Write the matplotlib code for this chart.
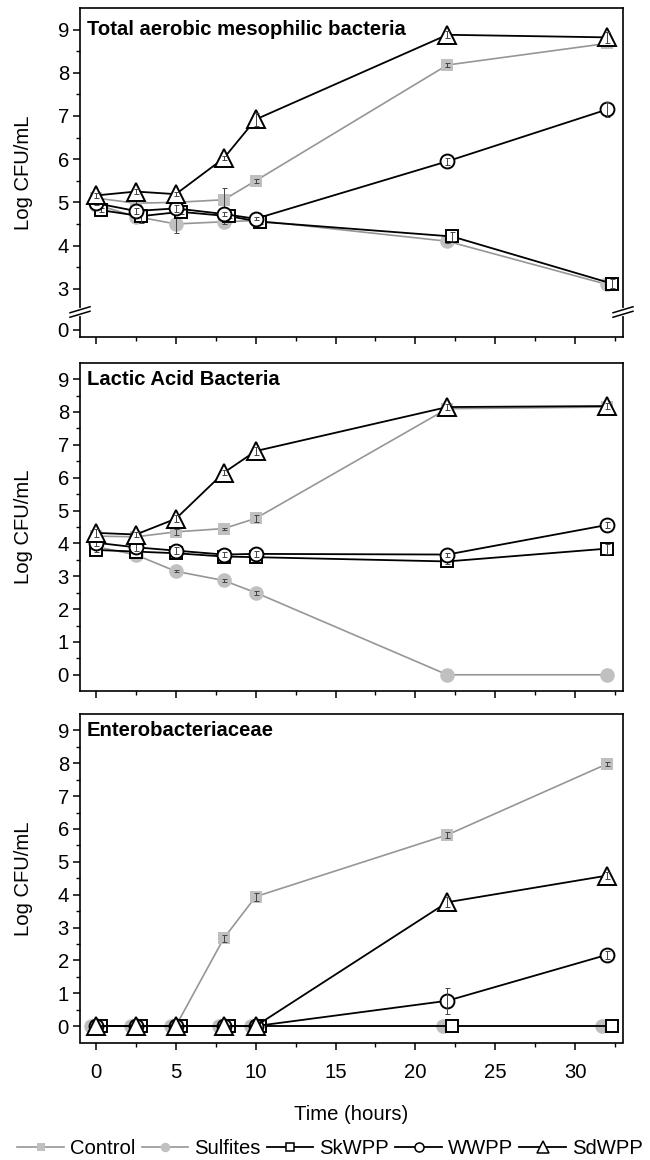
import matplotlib
matplotlib.use('Agg')
import numpy as np
import matplotlib.pyplot as plt
from matplotlib.lines import Line2D
from matplotlib.ticker import MultipleLocator, FixedLocator
import matplotlib.transforms as mtransforms

plt.rcParams['font.family'] = ['Liberation Sans', 'DejaVu Sans']

# ---------------- data ----------------
times = [0, 2.5, 5, 8, 10, 22, 32]
series_names = ['Control', 'Sulfites', 'SkWPP', 'WWPP', 'SdWPP']
panel_titles = ['Total aerobic mesophilic bacteria', 'Lactic Acid Bacteria', 'Enterobacteriaceae']

# Total aerobic mesophilic bacteria
tam_control = [5.10, 4.98, 5.00, 5.06, 5.50, 8.18, 8.68]
tam_sulfites = [4.95, 4.67, 4.50, 4.55, 4.58, 4.10, 3.10]
tam_skwpp = [4.82, 4.68, 4.78, 4.68, 4.55, 4.21, 3.12]
tam_wwpp = [4.98, 4.80, 4.86, 4.73, 4.62, 5.95, 7.15]
tam_sdwpp = [5.16, 5.25, 5.19, 6.02, 6.92, 8.88, 8.82]
tam_control_err = [0.05, 0.10, 0.05, 0.28, 0.05, 0.05, 0.05]
tam_sulfites_err = [0.05, 0.10, 0.20, 0.05, 0.05, 0.05, 0.05]
tam_skwpp_err = [0.05, 0.15, 0.05, 0.05, 0.05, 0.10, 0.10]
tam_wwpp_err = [0.05, 0.08, 0.08, 0.05, 0.03, 0.08, 0.18]
tam_sdwpp_err = [0.05, 0.05, 0.05, 0.05, 0.15, 0.08, 0.12]

# Lactic acid bacteria
lab_control = [4.22, 4.20, 4.35, 4.45, 4.76, 8.10, 8.15]
lab_sulfites = [3.90, 3.65, 3.15, 2.87, 2.50, 0.00, 0.00]
lab_skwpp = [3.80, 3.75, 3.70, 3.60, 3.58, 3.45, 3.84]
lab_wwpp = [4.02, 3.88, 3.78, 3.66, 3.68, 3.66, 4.56]
lab_sdwpp = [4.32, 4.27, 4.75, 6.15, 6.81, 8.15, 8.18]
lab_control_err = [0.05, 0.05, 0.08, 0.03, 0.10, 0.05, 0.05]
lab_sulfites_err = [0.05, 0.05, 0.03, 0.06, 0.06, 0.00, 0.00]
lab_skwpp_err = [0.05, 0.05, 0.05, 0.05, 0.05, 0.08, 0.15]
lab_wwpp_err = [0.10, 0.10, 0.10, 0.08, 0.10, 0.06, 0.08]
lab_sdwpp_err = [0.12, 0.08, 0.10, 0.08, 0.12, 0.08, 0.08]

# Enterobacteriaceae
ent_control = [0, 0, 0, 2.67, 3.94, 5.82, 7.98]
ent_sulfites = [0, 0, 0, 0, 0, 0, 0]
ent_skwpp = [0, 0, 0, 0, 0, 0, 0]
ent_wwpp = [0, 0, 0, 0, 0, 0.77, 2.17]
ent_sdwpp = [0, 0, 0, 0, 0, 3.77, 4.58]
ent_control_err = [0, 0, 0, 0.10, 0.12, 0.08, 0.05]
ent_sulfites_err = [0, 0, 0, 0, 0, 0, 0]
ent_skwpp_err = [0, 0, 0, 0, 0, 0, 0]
ent_wwpp_err = [0, 0, 0, 0, 0, 0.40, 0.12]
ent_sdwpp_err = [0, 0, 0, 0, 0, 0.15, 0.10]

panels = [
    [tam_control, tam_sulfites, tam_skwpp, tam_wwpp, tam_sdwpp],
    [lab_control, lab_sulfites, lab_skwpp, lab_wwpp, lab_sdwpp],
    [ent_control, ent_sulfites, ent_skwpp, ent_wwpp, ent_sdwpp],
]
panel_errs = [
    [tam_control_err, tam_sulfites_err, tam_skwpp_err, tam_wwpp_err, tam_sdwpp_err],
    [lab_control_err, lab_sulfites_err, lab_skwpp_err, lab_wwpp_err, lab_sdwpp_err],
    [ent_control_err, ent_sulfites_err, ent_skwpp_err, ent_wwpp_err, ent_sdwpp_err],
]
# small horizontal jitter used in the original to separate overlapping markers
x_offsets = [
    [0, 0, 0.3, 0, 0],
    [0, 0, 0, 0, 0],
    [0, -0.3, 0.3, 0, 0],
]

# ---------------- styles ----------------
GRAY_FACE = '#c0c0c0'
GRAY_LINE = '#969696'
styles = {
    'Control': dict(marker='s', ms=9, mfc=GRAY_FACE, mec=GRAY_FACE, color=GRAY_LINE, lw=1.2, mew=0),
    'Sulfites': dict(marker='o', ms=10.5, mfc=GRAY_FACE, mec=GRAY_FACE, color=GRAY_LINE, lw=1.2, mew=0),
    'SkWPP': dict(marker='s', ms=8.5, mfc='white', mec='black', color='black', lw=1.3, mew=1.4),
    'WWPP': dict(marker='o', ms=10, mfc='white', mec='black', color='black', lw=1.3, mew=1.4),
    'SdWPP': dict(marker='^', ms=12.5, mfc='white', mec='black', color='black', lw=1.3, mew=1.4),
}

FS = 14.6
fig = plt.figure(figsize=(6.5, 11.6), dpi=100)
left, width = 80 / 650, 543 / 650
tops = [8, 362.7, 714]
height_px = 328.5
axes = []
for t in tops:
    bottom = 1 - (t + height_px) / 1160
    axes.append(fig.add_axes([left, bottom, width, height_px / 1160]))

K = 0.316


def fwd(v):
    v = np.asarray(v, dtype=float)
    return np.where(v >= 3, v, 3 - (3 - v) * K)


def inv(u):
    u = np.asarray(u, dtype=float)
    return np.where(u >= 3, u, 3 - (3 - u) / K)


for p, ax in enumerate(axes):
    if p == 0:
        ax.set_yscale('function', functions=(fwd, inv))
    for i, name in enumerate(series_names):
        st = styles[name]
        x = np.array(times) + x_offsets[p][i]
        y = np.array(panels[p][i])
        ax.plot(x, y, marker=st['marker'], ms=st['ms'], mfc=st['mfc'], mec=st['mec'],
                color=st['color'], lw=st['lw'], mew=st['mew'], zorder=2 + i, clip_on=False)
        err = np.array(panel_errs[p][i])
        mask = err > 0
        if mask.any():
            ax.errorbar(x[mask], y[mask], yerr=err[mask], fmt='none', ecolor='#444444',
                        elinewidth=0.7, capsize=1.8, capthick=0.7, zorder=2.5 + i)

    ax.set_xlim(-1, 33)
    ax.set_ylim(-0.5, 9.5)
    ax.xaxis.set_major_locator(FixedLocator([0, 5, 10, 15, 20, 25, 30]))
    ax.xaxis.set_minor_locator(MultipleLocator(2.5))
    if p == 0:
        ax.yaxis.set_major_locator(FixedLocator([0, 3, 4, 5, 6, 7, 8, 9]))
        ax.yaxis.set_minor_locator(FixedLocator([3.5, 4.5, 5.5, 6.5, 7.5, 8.5]))
    else:
        ax.yaxis.set_major_locator(FixedLocator(list(range(10))))
        ax.yaxis.set_minor_locator(FixedLocator([k + 0.5 for k in range(9)]))
    ax.set_yticklabels([str(v) for v in ([0, 3, 4, 5, 6, 7, 8, 9] if p == 0 else range(10))])
    ax.tick_params(which='major', direction='out', length=5, width=1.1, labelsize=FS)
    ax.tick_params(which='minor', direction='out', length=2.8, width=1.0)
    ax.tick_params(axis='y', which='major', pad=3)
    ax.tick_params(axis='x', which='major', pad=10)
    ax.tick_params(top=False, right=False)
    if p < 2:
        ax.tick_params(labelbottom=False)
    for s in ax.spines.values():
        s.set_linewidth(1.2)
    ax.set_ylabel('Log CFU/mL', fontsize=FS, labelpad=18)
    trans = mtransforms.blended_transform_factory(ax.transAxes, ax.transData)
    ax.text(0.013, 9, panel_titles[p], transform=trans, fontsize=FS, fontweight='bold',
            ha='left', va='center')

axes[2].set_xlabel('Time (hours)', fontsize=FS, labelpad=16)

# axis-break marks on top panel
ax = axes[0]
bw = 10 / 543
bh = 3 / 328.5
ybrk = 1 - (312 - 8) / 328.5
gap = 4.5 / 328.5
for xs in (0, 1):
    ax.add_line(Line2D([xs, xs], [ybrk - gap / 2, ybrk + gap / 2], transform=ax.transAxes,
                       color='white', lw=3, clip_on=False, zorder=10))
    for dy in (-gap / 2, gap / 2):
        ax.add_line(Line2D([xs - bw, xs + bw], [ybrk + dy - bh, ybrk + dy + bh],
                           transform=ax.transAxes, color='black', lw=1.1,
                           clip_on=False, zorder=11))

# legend
handles = []
for name in series_names:
    st = styles[name]
    handles.append(Line2D([], [], marker=st['marker'], ms=st['ms'] * 0.65, mfc=st['mfc'],
                          mec=st['mec'], color=st['color'], lw=st['lw'],
                          mew=st['mew'] * 0.8 if st['mew'] else 0))
fig.legend(handles, series_names, loc='center', bbox_to_anchor=(0.508, 1 - 1149 / 1160),
           ncol=5, frameon=False, fontsize=FS, handlelength=2.3, handletextpad=0.3,
           columnspacing=0.3, borderpad=0, borderaxespad=0)

fig.savefig('out.png', dpi=100)
